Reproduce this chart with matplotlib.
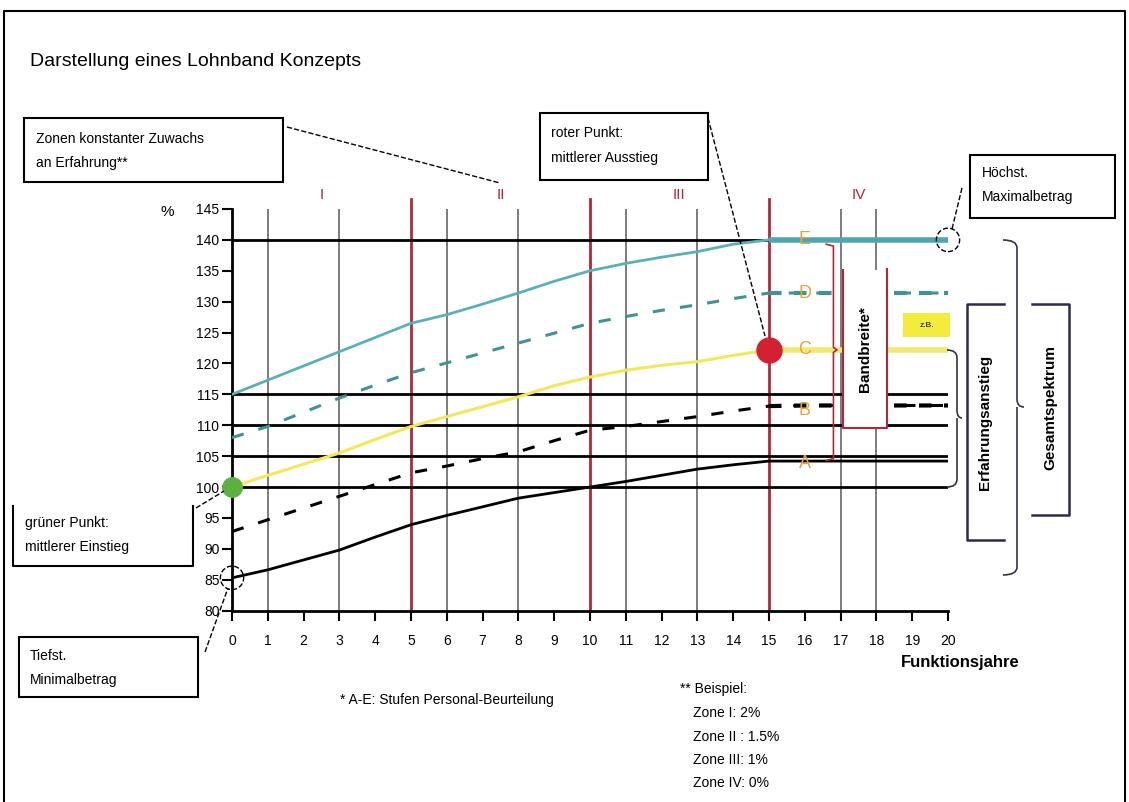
import matplotlib
matplotlib.use('Agg')
import matplotlib.pyplot as plt
from matplotlib.patches import Rectangle, Ellipse, PathPatch
from matplotlib.path import Path
from matplotlib.lines import Line2D

plt.rcParams['font.family'] = ['Liberation Sans', 'DejaVu Sans']

# Data
years = list(range(21))
E = [115, 117.3, 119.6, 121.9, 124.2, 126.5, 127.9, 129.6, 131.4, 133.3, 135.0,
     136.2, 137.2, 138.1, 139.3, 140, 140, 140, 140, 140, 140]
D = [108.0, 109.8, 112.1, 114.4, 116.5, 118.5, 120.1, 121.7, 123.3, 124.9, 126.5,
     127.6, 128.6, 129.5, 130.5, 131.4, 131.4, 131.4, 131.4, 131.4, 131.4]
C = [100, 101.9, 103.7, 105.5, 107.7, 109.8, 111.4, 113.0, 114.6, 116.4, 117.8,
     118.9, 119.7, 120.3, 121.3, 122.2, 122.2, 122.2, 122.2, 122.2, 122.2]
B = [92.8, 94.7, 96.6, 98.5, 100.4, 102.3, 103.4, 104.6, 105.7, 107.5, 109.2,
     109.8, 110.6, 111.4, 112.3, 113.1, 113.2, 113.2, 113.2, 113.2, 113.2]
A = [85.3, 86.6, 88.2, 89.8, 91.9, 93.9, 95.4, 96.8, 98.2, 99.1, 100.0,
     100.9, 101.9, 102.9, 103.6, 104.2, 104.2, 104.2, 104.2, 104.2, 104.2]
stufen = ['E', 'D', 'C', 'B', 'A']
stufen_y = [140, 131.4, 122.2, 112.4, 103.8]
zonen = ['I', 'II', 'III', 'IV']
zonen_x = [2.5, 7.5, 12.5, 17.5]
zonen_grenzen = [5, 10, 15]
graue_linien = [1, 3, 6, 8, 11, 13, 17, 18]
schwarze_linien = [140, 115, 110, 105, 100]

W, H = 1129, 802
fig = plt.figure(figsize=(W / 100, H / 100), dpi=100)

def fx(px):
    return px / W

def fy(py):
    return 1 - py / H

def fline(pts, **kw):
    xs = [fx(p[0]) for p in pts]
    ys = [fy(p[1]) for p in pts]
    fig.add_artist(Line2D(xs, ys, transform=fig.transFigure, **kw))

def fbox(x0, y0, x1, y1, **kw):
    fig.add_artist(Rectangle((fx(x0), fy(y1)), fx(x1) - fx(x0), fy(y0) - fy(y1),
                             transform=fig.transFigure, fill=False, **kw))

def brace(x, y0, y1, ym, w, **kw):
    r = 8
    verts = [(x - w, y0), (x, y0), (x, y0 + r),
             (x, ym - r), (x, ym), (x + w / 2, ym),
             (x, ym), (x, ym + r),
             (x, y1 - r), (x, y1), (x - w, y1)]
    codes = [Path.MOVETO, Path.CURVE3, Path.CURVE3,
             Path.LINETO, Path.CURVE3, Path.CURVE3,
             Path.MOVETO, Path.LINETO,
             Path.LINETO, Path.CURVE3, Path.CURVE3]
    verts = [(fx(a), fy(b)) for a, b in verts]
    fig.add_artist(PathPatch(Path(verts, codes), transform=fig.transFigure,
                             fill=False, **kw))

# main axes: 0..20 -> px 232..948, 80..145 -> px 610.6..209
ax = fig.add_axes([fx(232), fy(610.6), fx(948) - fx(232), fy(209) - fy(610.6)])
ax.set_xlim(0, 20)
ax.set_ylim(80, 145)
for s in ['top', 'right']:
    ax.spines[s].set_visible(False)
ax.spines['left'].set_linewidth(2)
ax.spines['bottom'].set_linewidth(2)
ax.set_xticks(years)
ax.set_yticks(range(80, 146, 5))
ax.tick_params(axis='both', width=1.5, length=7, labelsize=10)
ax.tick_params(axis='y', pad=2)
ax.tick_params(axis='x', pad=10)

for g in graue_linien:
    ax.plot([g, g], [80, 145], color='#666666', lw=1.2, zorder=1)
for g in zonen_grenzen:
    ax.plot([g, g], [80, 146.6], color='#B0283A', lw=2, zorder=1, clip_on=False)
for h in schwarze_linien:
    ax.plot([0, 20], [h, h], color='black', lw=2, zorder=2)

for x, z in zip(zonen_x, zonen):
    ax.text(x, 147.2, z, color='#B0283A', fontsize=11, ha='center', va='center')

# curves
ax.plot(years, E, color='#5BB0B8', lw=2, zorder=3)
ax.plot(years[15:], E[15:], color='#4FA6AE', lw=4, zorder=3, solid_capstyle='butt')
ax.plot(years, D, color='#3E9490', lw=2.2, ls=(0, (4, 5)), zorder=3)
ax.plot(years[15:], D[15:], color='#3E9490', lw=3, ls=(0, (3, 3)), zorder=3)
ax.plot(years, C, color='#F2E85A', lw=2.2, zorder=3)
ax.plot(years[15:], C[15:], color='#F2EA70', lw=4, zorder=3, solid_capstyle='butt')
ax.plot(years, B, color='black', lw=2.2, ls=(0, (4, 5)), zorder=3)
ax.plot(years[15:], B[15:], color='black', lw=3, ls=(0, (3, 3)), zorder=3)
ax.plot(years, A, color='black', lw=2, zorder=3)

for s, y in zip(stufen, stufen_y):
    ax.text(16, y, s, color='#E8A33C', fontsize=13, ha='center', va='center', zorder=5)

# points
ax.plot([0], [C[0]], 'o', color='#5BB040', ms=14, zorder=6, clip_on=False)
ax.plot([15], [C[15]], 'o', color='#D42030', ms=18, zorder=6, clip_on=False)
ax.add_patch(Ellipse((0, A[0]), 0.65, 3.8, fill=False, ls='--', lw=1, ec='black',
                     zorder=6, clip_on=False))
ax.add_patch(Ellipse((20, E[-1]), 0.65, 3.8, fill=False, ls='--', lw=1, ec='black',
                     zorder=6, clip_on=False))

# small red brace E..A
ax.plot([16.6, 16.8, 16.8, 16.9, 16.8, 16.8, 16.6],
        [139.3, 139.0, 122.6, 122.2, 121.8, 104.6, 104.3],
        color='#B0283A', lw=1.2, zorder=4, clip_on=False)

# Bandbreite box
ax.add_patch(Rectangle((17.07, 109.5), 1.23, 25.6, fc='white', ec='none', zorder=4))
ax.plot([17.07, 17.07, 18.3, 18.3], [135.1, 109.5, 109.5, 135.3],
        color='#B0283A', lw=1.5, zorder=5)
ax.text(17.68, 122.3, 'Bandbreite*', rotation=90, fontsize=11, fontweight='bold',
        ha='center', va='center', zorder=6)

# yellow box
ax.add_patch(Rectangle((18.74, 124.3), 1.32, 3.85, fc='#F2EC3C', ec='none',
                       zorder=4, clip_on=False))
ax.text(19.4, 126.2, 'z.B.', fontsize=6, ha='center', va='center', zorder=5)

# labels
fig.text(fx(167), fy(212), '%', fontsize=11, ha='center', va='center')
fig.text(fx(960), fy(663), 'Funktionsjahre', fontsize=12, fontweight='bold',
         ha='center', va='center')
fig.text(fx(30), fy(62), 'Darstellung eines Lohnband Konzepts', fontsize=14,
         ha='left', va='center')

# annotation boxes
fbox(24, 118, 283, 182, color='black', lw=1.5)
fig.text(fx(36), fy(139), 'Zonen konstanter Zuwachs', fontsize=10, va='center')
fig.text(fx(36), fy(163), 'an Erfahrung**', fontsize=10, va='center')
fline([(287, 127), (500, 183)], color='black', lw=1, ls='--')

fbox(540, 113, 708, 180, color='black', lw=1.5)
fig.text(fx(551), fy(133), 'roter Punkt:', fontsize=10, va='center')
fig.text(fx(551), fy(158), 'mittlerer Ausstieg', fontsize=10, va='center')
fline([(708, 118), (765, 336)], color='black', lw=1, ls='--')

fbox(970, 155, 1115, 218, color='black', lw=1.5)
fig.text(fx(982), fy(173), 'Höchst.', fontsize=10, va='center')
fig.text(fx(982), fy(197), 'Maximalbetrag', fontsize=10, va='center')
fline([(962, 188), (952, 229)], color='black', lw=1, ls='--')

fline([(13, 506), (13, 566), (193, 566), (193, 506)], color='black', lw=1.5)
fig.text(fx(25), fy(523), 'grüner Punkt:', fontsize=10, va='center')
fig.text(fx(25), fy(547), 'mittlerer Einstieg', fontsize=10, va='center')
fline([(196, 508), (224, 491)], color='black', lw=1, ls='--')

fbox(19, 637, 198, 697, color='black', lw=1.5)
fig.text(fx(30), fy(656), 'Tiefst.', fontsize=10, va='center')
fig.text(fx(30), fy(680), 'Minimalbetrag', fontsize=10, va='center')
fline([(205, 652), (228, 588)], color='black', lw=1, ls='--')

# braces and brackets on the right
brace(957, 350, 487, 418, 10, ec='#333344', lw=1.2)
brace(1017, 240, 575, 407, 14, ec='#333344', lw=1.2)
fline([(1004, 304), (967, 304), (967, 540), (1004, 540)], color='#2B2B4B', lw=1.8)
fig.text(fx(985), fy(422), 'Erfahrungsanstieg', rotation=90, fontsize=11,
         fontweight='bold', ha='center', va='center')
fline([(1032, 304), (1069, 304), (1069, 515), (1032, 515)], color='#2B2B4B', lw=1.8)
fig.text(fx(1050), fy(407), 'Gesamtspektrum', rotation=90, fontsize=11,
         fontweight='bold', ha='center', va='center')

# footnotes
fig.text(fx(340), fy(700), '* A-E: Stufen Personal-Beurteilung', fontsize=10, va='center')
fig.text(fx(680), fy(689), '** Beispiel:', fontsize=10, va='center')
fig.text(fx(693), fy(713), 'Zone I: 2%', fontsize=10, va='center')
fig.text(fx(693), fy(737), 'Zone II : 1.5%', fontsize=10, va='center')
fig.text(fx(693), fy(760), 'Zone III: 1%', fontsize=10, va='center')
fig.text(fx(693), fy(783), 'Zone IV: 0%', fontsize=10, va='center')

# outer frame
fline([(4, 802), (4, 11), (1125, 11), (1125, 802)], color='black', lw=1.5)

fig.savefig('out.png', dpi=100)
